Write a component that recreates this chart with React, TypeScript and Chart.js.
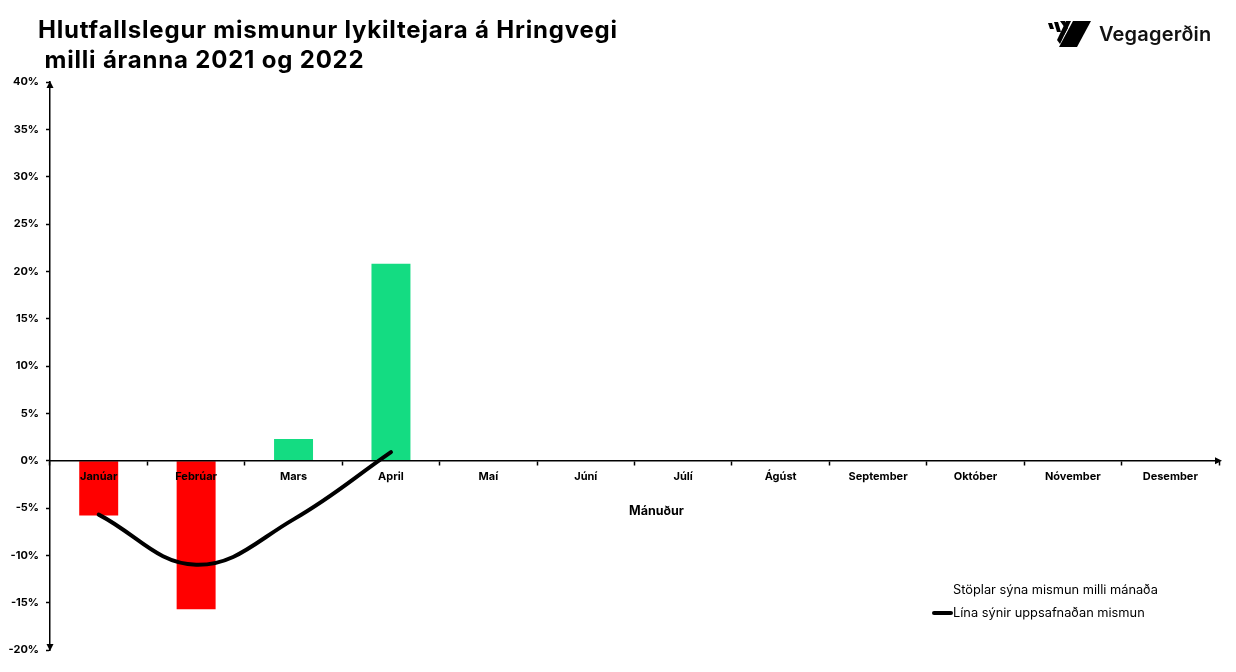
import React, { useEffect, useRef } from "react";
import { Chart, registerables } from "chart.js";

Chart.register(...registerables);

// Months of the year (x categories)
const months = [
  "Janúar", "Febrúar", "Mars", "April", "Maí", "Júní",
  "Júlí", "Ágúst", "September", "Október", "Nóvember", "Desember",
];

// Change between months, in percent (bars)
const monthlyChange: (number | null)[] = [-5.8, -15.7, 2.3, 20.8, null, null, null, null, null, null, null, null];

// Accumulated change, in percent (line)
const cumulativeChange: (number | null)[] = [-5.7, -11.0, -6.2, 0.9, null, null, null, null, null, null, null, null];

// Value axis range and step, in percent
const yMin = -20;
const yMax = 40;
const yStep = 5;

const RED = "#ff0000";
const GREEN = "#14dc82";
const FONT = "Inter, 'Noto Sans', sans-serif";

// Small arrowheads at the ends of both axes
const axisArrows = {
  id: "axisArrows",
  afterDraw(chart: any) {
    const { ctx, chartArea, scales } = chart;
    const x0 = chartArea.left;
    const yZero = scales.y.getPixelForValue(0);
    ctx.save();
    ctx.fillStyle = "#000";
    // x axis, pointing right
    const xr = chartArea.right + 3;
    ctx.beginPath();
    ctx.moveTo(xr, yZero);
    ctx.lineTo(xr - 7, yZero - 3.5);
    ctx.lineTo(xr - 7, yZero + 3.5);
    ctx.closePath();
    ctx.fill();
    // y axis, pointing up
    const yt = chartArea.top - 1;
    ctx.beginPath();
    ctx.moveTo(x0, yt);
    ctx.lineTo(x0 - 3.5, yt + 7);
    ctx.lineTo(x0 + 3.5, yt + 7);
    ctx.closePath();
    ctx.fill();
    // y axis, pointing down
    const yb = chartArea.bottom + 1;
    ctx.beginPath();
    ctx.moveTo(x0, yb);
    ctx.lineTo(x0 - 3.5, yb - 7);
    ctx.lineTo(x0 + 3.5, yb - 7);
    ctx.closePath();
    ctx.fill();
    ctx.restore();
  },
};

function ChangeChart() {
  const canvasRef = useRef<HTMLCanvasElement | null>(null);

  useEffect(() => {
    const canvas = canvasRef.current;
    if (!canvas) return;
    const chart = new Chart(canvas, {
      type: "bar",
      data: {
        labels: months,
        datasets: [
          {
            type: "line",
            label: "Lína sýnir uppsafnaðan mismun",
            data: cumulativeChange,
            borderColor: "#000",
            borderWidth: 4,
            borderCapStyle: "round",
            pointRadius: 0,
            tension: 0.4,
            spanGaps: false,
            order: 0,
          } as any,
          {
            type: "bar",
            label: "Stöplar sýna mismun milli mánaða",
            data: monthlyChange,
            backgroundColor: monthlyChange.map((v) => (v !== null && v < 0 ? RED : GREEN)),
            categoryPercentage: 1,
            barPercentage: 0.4,
            order: 1,
          },
        ],
      },
      options: {
        responsive: false,
        animation: false,
        devicePixelRatio: 1,
        layout: { padding: { left: 0, top: 82, right: 17, bottom: 22 } },
        plugins: {
          legend: { display: false },
          tooltip: { enabled: false },
          title: { display: false },
        },
        scales: {
          x: {
            position: { y: 0 } as any,
            offset: true,
            grid: {
              offset: true,
              drawOnChartArea: false,
              drawTicks: true,
              tickLength: 4,
              tickWidth: 1.5,
              color: "#000",
              z: 1,
            },
            border: { display: true, color: "#000", width: 1.5, z: 1 },
            ticks: {
              color: "#000",
              padding: 5,
              maxRotation: 0,
              autoSkip: false,
              z: 1,
              font: { family: FONT, size: 11, weight: "bold" },
            },
          },
          y: {
            min: yMin,
            max: yMax,
            afterFit: (s: any) => {
              s.width = 50;
            },
            grid: {
              drawOnChartArea: false,
              drawTicks: true,
              tickLength: 4,
              tickWidth: 1.5,
              color: "#000",
            },
            border: { display: true, color: "#000", width: 1.5 },
            ticks: {
              stepSize: yStep,
              color: "#000",
              padding: 7,
              font: { family: FONT, size: 11, weight: "bold" },
              callback: (v: any) => `${v}%`,
            },
          },
        },
      },
      plugins: [axisArrows],
    });
    return () => chart.destroy();
  }, []);

  return (
    <canvas
      ref={canvasRef}
      width={1236}
      height={672}
      style={{ position: "absolute", left: 0, top: 0, display: "block" }}
    />
  );
}

function Logo() {
  return (
    <div style={{ position: "absolute", left: 1047, top: 20, display: "flex", alignItems: "center" }}>
      <svg width={44} height={28} viewBox="0 0 44 28">
        <polygon points="26,1 44,1 30,27 12,27" fill="#000" />
        <polygon points="1,3 5,3 7,9 3,9" fill="#000" />
        <polygon points="7,2 11,2 14,12 10,12" fill="#000" />
        <polygon points="13,1 18,1 21,8 17,15 15,15 18,8" fill="#000" />
        <polygon points="19,1 24,1 13,24 10,20" fill="#000" />
      </svg>
      <span
        style={{
          marginLeft: 8,
          fontFamily: FONT,
          fontWeight: 600,
          fontSize: 20,
          color: "#111",
          letterSpacing: 0.2,
        }}
      >
        Vegagerðin
      </span>
    </div>
  );
}

export default function App() {
  return (
    <div
      style={{
        position: "fixed",
        left: 0,
        top: 0,
        width: 1236,
        height: 672,
        background: "#fff",
        overflow: "hidden",
        fontFamily: FONT,
      }}
    >
      <ChangeChart />
      <div
        style={{
          position: "absolute",
          left: 38,
          top: 15,
          fontSize: 24,
          fontWeight: 700,
          lineHeight: "30px",
          color: "#000",
          whiteSpace: "pre",
          letterSpacing: 0.8,
        }}
      >
        {"Hlutfallslegur mismunur lykiltejara á Hringvegi\n milli áranna 2021 og 2022"}
      </div>
      <Logo />
      <div
        style={{
          position: "absolute",
          left: 629,
          top: 503,
          fontSize: 12.5,
          fontWeight: 700,
          color: "#000",
        }}
      >
        Mánuður
      </div>
      <div
        style={{
          position: "absolute",
          left: 953,
          top: 582,
          fontSize: 12.8,
          color: "#000",
          whiteSpace: "nowrap",
        }}
      >
        Stöplar sýna mismun milli mánaða
      </div>
      <div
        style={{
          position: "absolute",
          left: 932,
          top: 605,
          display: "flex",
          alignItems: "center",
          fontSize: 12.8,
          color: "#000",
          whiteSpace: "nowrap",
        }}
      >
        <span
          style={{
            display: "inline-block",
            width: 21,
            height: 4,
            borderRadius: 2,
            background: "#000",
          }}
        />
        <span>Lína sýnir uppsafnaðan mismun</span>
      </div>
    </div>
  );
}
